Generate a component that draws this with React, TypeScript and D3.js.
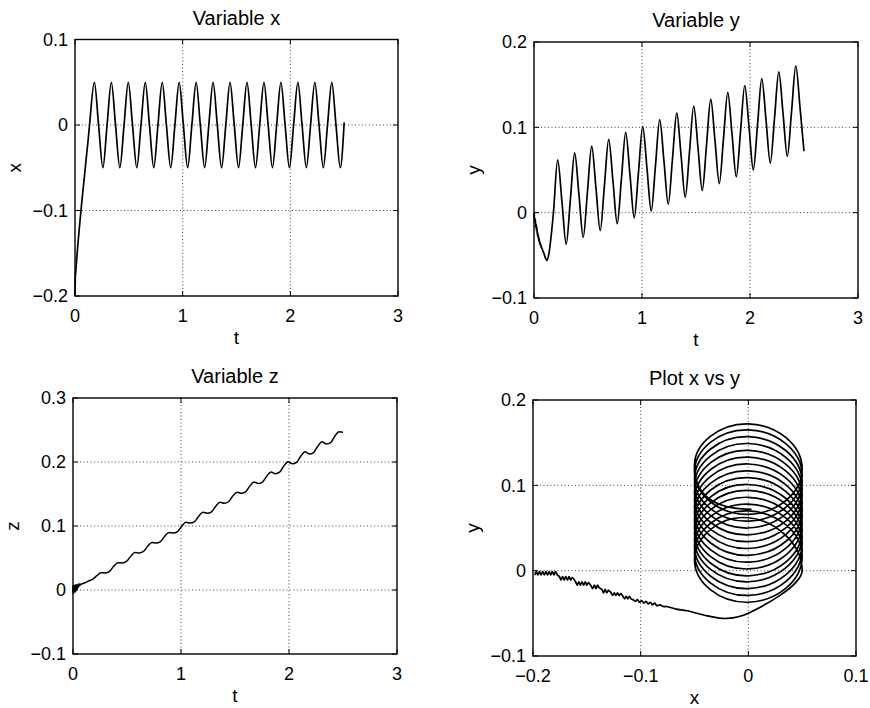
import React from "react";
import * as d3 from "d3";

// sample times shared by the four panels (start transient, then quarter periods)
const tPts = [
  0, 0.0002, 0.0004, 0.0006, 0.0008, 0.001, 0.0012, 0.0014, 0.0016, 0.0018, 0.002, 0.0022, 0.0024, 0.0026, 0.0028, 0.003,
  0.0042, 0.0052, 0.0062, 0.0072, 0.0082, 0.0092, 0.0102, 0.0112, 0.0122,
  0.0138, 0.0147, 0.0156, 0.0165, 0.0174, 0.0183, 0.0192, 0.0201, 0.021,
  0.0225, 0.0235, 0.0245, 0.0255, 0.0265, 0.0275,
  0.0295, 0.0305, 0.0315, 0.0325, 0.0335,
  0.0355, 0.0365, 0.0375, 0.0385, 0.0395, 0.0405, 0.0415,
  0.0435, 0.0445, 0.0455, 0.0465, 0.0475, 0.0485,
  0.0505, 0.052, 0.0535, 0.055, 0.0565, 0.058, 0.0595, 0.061, 0.0625, 0.064, 0.0655, 0.067, 0.0695, 0.072, 0.0745,
  0.082, 0.09, 0.105, 0.12, 0.135,
  0.18, 0.219, 0.259, 0.298,
  0.3375, 0.3765, 0.4165, 0.4555,
  0.495, 0.534, 0.574, 0.613,
  0.6525, 0.6915, 0.7315, 0.7705,
  0.81, 0.849, 0.889, 0.928,
  0.9675, 1.0065, 1.0465, 1.0855,
  1.125, 1.164, 1.204, 1.243,
  1.2825, 1.3215, 1.3615, 1.4005,
  1.44, 1.479, 1.519, 1.558,
  1.5975, 1.6365, 1.6765, 1.7155,
  1.755, 1.794, 1.834, 1.873,
  1.9125, 1.9515, 1.9915, 2.0305,
  2.07, 2.109, 2.149, 2.188,
  2.2275, 2.2665, 2.3065, 2.3455,
  2.385, 2.424, 2.464, 2.5,
];

const xPts = [
  -0.2, -0.1985, -0.197, -0.1955, -0.194, -0.1925, -0.191, -0.1895, -0.188, -0.1865, -0.185, -0.1835, -0.182, -0.1805, -0.179, -0.1775,
  -0.1755, -0.174, -0.1725, -0.171, -0.1695, -0.168, -0.1665, -0.165, -0.1635,
  -0.1605, -0.159, -0.1575, -0.156, -0.1545, -0.153, -0.1515, -0.15, -0.1485,
  -0.146, -0.1445, -0.143, -0.1415, -0.14, -0.1385,
  -0.136, -0.1345, -0.133, -0.1315, -0.13,
  -0.1275, -0.126, -0.1245, -0.123, -0.1215, -0.12, -0.1185,
  -0.1165, -0.115, -0.1135, -0.112, -0.1105, -0.109,
  -0.107, -0.105, -0.103, -0.101, -0.099, -0.097, -0.095, -0.093, -0.091, -0.089, -0.087, -0.085, -0.082, -0.079, -0.076,
  -0.067, -0.057, -0.038, -0.02, 0,
  0.05, 0, -0.05, 0,
  0.05, 0, -0.05, 0,
  0.05, 0, -0.05, 0,
  0.05, 0, -0.05, 0,
  0.05, 0, -0.05, 0,
  0.05, 0, -0.05, 0,
  0.05, 0, -0.05, 0,
  0.05, 0, -0.05, 0,
  0.05, 0, -0.05, 0,
  0.05, 0, -0.05, 0,
  0.05, 0, -0.05, 0,
  0.05, 0, -0.05, 0,
  0.05, 0, -0.05, 0,
  0.05, 0, -0.05, 0,
  0.05, 0, -0.05, 0.003,
];

const yPts = [
  0, -0.005, -0.001, -0.005, -0.001, -0.005, -0.001, -0.005, -0.001, -0.005, -0.001, -0.005, -0.001, -0.005, -0.001, -0.005,
  -0.007, -0.011, -0.007, -0.011, -0.007, -0.011, -0.007, -0.011, -0.008,
  -0.013, -0.017, -0.013, -0.017, -0.013, -0.017, -0.013, -0.017, -0.014,
  -0.018, -0.021, -0.017, -0.021, -0.017, -0.02,
  -0.022, -0.026, -0.022, -0.026, -0.023,
  -0.026, -0.029, -0.026, -0.029, -0.026, -0.029, -0.027,
  -0.03, -0.033, -0.03, -0.033, -0.03, -0.033,
  -0.034, -0.036, -0.034, -0.037, -0.035, -0.038, -0.036, -0.039, -0.037, -0.04, -0.038, -0.041, -0.04, -0.042, -0.042,
  -0.045, -0.047, -0.053, -0.056, -0.05,
  0, 0.062, 0.0125, -0.037,
  0.0165, 0.07, 0.0205, -0.029,
  0.0245, 0.078, 0.0285, -0.021,
  0.0325, 0.086, 0.0365, -0.013,
  0.0405, 0.094, 0.044, -0.006,
  0.0475, 0.101, 0.0515, 0.002,
  0.0555, 0.109, 0.0595, 0.01,
  0.0635, 0.117, 0.0675, 0.018,
  0.0715, 0.125, 0.0755, 0.026,
  0.0795, 0.133, 0.0835, 0.034,
  0.0875, 0.141, 0.0915, 0.042,
  0.0955, 0.149, 0.0995, 0.05,
  0.1035, 0.157, 0.1075, 0.058,
  0.1115, 0.165, 0.1155, 0.066,
  0.119, 0.172, 0.122, 0.072,
];

const zPts = [
  0, 0.006, -0.005, 0.006, -0.005, 0.006, -0.005, 0.006, -0.005, 0.006, -0.005, 0.006, -0.005, 0.006, -0.005, 0.006,
  -0.005, 0.006, -0.004, 0.006, -0.004, 0.006, -0.004, 0.006, -0.004,
  0.007, -0.003, 0.007, -0.003, 0.007, -0.003, 0.007, -0.003, 0.007,
  -0.002, 0.008, -0.002, 0.008, -0.001, 0.008,
  -0.001, 0.008, 0, 0.008, 0,
  0.008, 0.001, 0.008, 0.001, 0.008, 0.002, 0.008,
  0.003, 0.009, 0.003, 0.009, 0.004, 0.009,
  0.005, 0.009, 0.006, 0.009, 0.006, 0.009, 0.007, 0.009, 0.007, 0.009, 0.008, 0.009, 0.008, 0.009, 0.009,
  0.0095, 0.01, 0.011, 0.012, 0.0135,
  0.0165, 0.022, 0.0269, 0.0267,
  0.029, 0.0371, 0.0427, 0.0423,
  0.0446, 0.0527, 0.0584, 0.0578,
  0.0602, 0.0684, 0.0742, 0.0734,
  0.0757, 0.0841, 0.0899, 0.0889,
  0.0913, 0.0998, 0.1057, 0.1045,
  0.1068, 0.1154, 0.1214, 0.12,
  0.1222, 0.131, 0.1372, 0.1356,
  0.1379, 0.1467, 0.1529, 0.151,
  0.1532, 0.1623, 0.1687, 0.1665,
  0.1687, 0.1779, 0.1844, 0.1818,
  0.1841, 0.1936, 0.2002, 0.1972,
  0.1994, 0.2091, 0.2159, 0.2126,
  0.2148, 0.2247, 0.2317, 0.2281,
  0.2302, 0.2403, 0.2474, 0.2465,
];

const tTicks = [0, 1, 2, 3];
const xTicks = [-0.2, -0.1, 0, 0.1];
const yTicks = [-0.1, 0, 0.1, 0.2];
const zTicks = [-0.1, 0, 0.1, 0.2, 0.3];

const FONT = "'Liberation Sans', Arial, Helvetica, sans-serif";

const fmt = (v) => {
  if (Math.abs(v) < 1e-9) return "0";
  const s = String(Math.abs(+v.toFixed(3)));
  return (v < 0 ? "\u2212" : "") + s;
};

const Panel = (props) => {
  const { box, xDomain, yDomain, xTickVals, yTickVals, xs, ys, title, xLabel, yLabel, segments, extra, lw } = props;
  const sx = d3.scaleLinear().domain(xDomain).range([box.left, box.right]);
  const sy = d3.scaleLinear().domain(yDomain).range([box.bottom, box.top]);
  const paths = segments.map(([from, to, curve]) =>
    d3
      .line()
      .x((i) => sx(xs[i]))
      .y((i) => sy(ys[i]))
      .curve(curve)(d3.range(from, to + 1))
  );
  if (extra) paths.push(...extra(sx, sy));
  const cx = (box.left + box.right) / 2;
  const cy = (box.top + box.bottom) / 2;
  const tl = 5;

  return (
    <g>
      <text x={cx} y={box.top - 15} textAnchor="middle" fontSize={20}>
        {title}
      </text>
      {/* grid */}
      {xTickVals.slice(1, -1).map((v) => (
        <line key={"gx" + v} x1={sx(v)} x2={sx(v)} y1={box.top} y2={box.bottom}
          stroke="#444" strokeWidth={1} strokeDasharray="1 2.5" />
      ))}
      {yTickVals.slice(1, -1).map((v) => (
        <line key={"gy" + v} x1={box.left} x2={box.right} y1={sy(v)} y2={sy(v)}
          stroke="#444" strokeWidth={1} strokeDasharray="1 2.5" />
      ))}
      {/* ticks */}
      {xTickVals.map((v) => (
        <g key={"tx" + v}>
          <line x1={sx(v)} x2={sx(v)} y1={box.bottom} y2={box.bottom - tl} stroke="#000" />
          <line x1={sx(v)} x2={sx(v)} y1={box.top} y2={box.top + tl} stroke="#000" />
          <text x={sx(v)} y={box.bottom + 26} textAnchor="middle" fontSize={18}>
            {fmt(v)}
          </text>
        </g>
      ))}
      {yTickVals.map((v) => (
        <g key={"ty" + v}>
          <line x1={box.left} x2={box.left + tl} y1={sy(v)} y2={sy(v)} stroke="#000" />
          <line x1={box.right} x2={box.right - tl} y1={sy(v)} y2={sy(v)} stroke="#000" />
          <text x={box.left - 7} y={sy(v)} dy="0.36em" textAnchor="end" fontSize={18}>
            {fmt(v)}
          </text>
        </g>
      ))}
      <rect x={box.left} y={box.top} width={box.right - box.left} height={box.bottom - box.top}
        fill="none" stroke="#000" strokeWidth={1.4} />
      {paths.map((d, i) => (
        <path key={i} d={d} fill="none" stroke="#000" strokeWidth={lw} strokeLinejoin="round" />
      ))}
      <text x={cx} y={box.bottom + 48} textAnchor="middle" fontSize={19}>
        {xLabel}
      </text>
      <text transform={`translate(${box.left - 54},${cy}) rotate(-90)`} textAnchor="middle" fontSize={19}>
        {yLabel}
      </text>
    </g>
  );
};

const App = () => {
  const last = tPts.length - 1;
  const cycleStart = tPts.indexOf(0.18);
  const timeSeg = [[0, last, d3.curveMonotoneX]];
  // open splines: the outer points only steer the tangents, so the
  // transient and the loops meet at (x peak, y mid) going straight up
  const phaseSeg = [
    [0, cycleStart + 1, d3.curveCatmullRomOpen],
    [cycleStart - 1, last, d3.curveCardinalOpen.tension(-0.6)],
  ];
  // last quarter turn, left side down to the bottom of the final loop
  const phaseTail = (sx, sy) => {
    const p = d3.path();
    p.moveTo(sx(xPts[last - 1]), sy(yPts[last - 1]));
    p.quadraticCurveTo(sx(xPts[last - 1]), sy(yPts[last]), sx(xPts[last]), sy(yPts[last]));
    return [p.toString()];
  };
  return (
    <svg width={870} height={708} fontFamily={FONT}
      style={{ position: "absolute", left: 0, top: 0, background: "#fff" }}>
      <Panel box={{ left: 75, right: 398, top: 39.5, bottom: 296 }}
        xDomain={[0, 3]} yDomain={[-0.2, 0.1]} xTickVals={tTicks} yTickVals={xTicks}
        xs={tPts} ys={xPts} title="Variable x" xLabel="t" yLabel="x" segments={timeSeg} lw={1.7} />
      <Panel box={{ left: 534, right: 858, top: 42, bottom: 298 }}
        xDomain={[0, 3]} yDomain={[-0.1, 0.2]} xTickVals={tTicks} yTickVals={yTicks}
        xs={tPts} ys={yPts} title="Variable y" xLabel="t" yLabel="y" segments={timeSeg} lw={1.7} />
      <Panel box={{ left: 73, right: 397, top: 398, bottom: 654 }}
        xDomain={[0, 3]} yDomain={[-0.1, 0.3]} xTickVals={tTicks} yTickVals={zTicks}
        xs={tPts} ys={zPts} title="Variable z" xLabel="t" yLabel="z" segments={timeSeg} lw={1.5} />
      <Panel box={{ left: 533, right: 856, top: 400, bottom: 656 }}
        xDomain={[-0.2, 0.1]} yDomain={[-0.1, 0.2]} xTickVals={xTicks} yTickVals={yTicks}
        xs={xPts} ys={yPts} title="Plot x vs y" xLabel="x" yLabel="y" segments={phaseSeg}
        extra={phaseTail} lw={1.7} />
    </svg>
  );
};

export default App;
